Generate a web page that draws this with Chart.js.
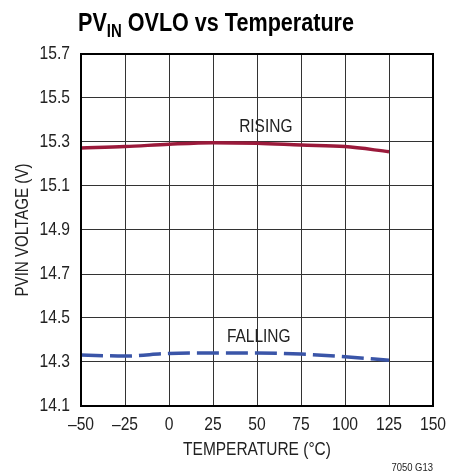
<!DOCTYPE html>
<html>
<head>
<meta charset="utf-8">
<script src="https://cdn.jsdelivr.net/npm/chart.js@4.4.0/dist/chart.umd.min.js"></script>
<style>
  html, body { margin: 0; padding: 0; background: #fff; }
  #wrap { width: 450px; height: 475px; position: relative; }
</style>
</head>
<body>
<div id="wrap"><canvas id="ovloChart" width="450" height="475"></canvas></div>
<script>
  "use strict";

  // data
  var temps = [-50, -25, 0, 25, 50, 75, 100, 125];
  var rising = [15.273, 15.279, 15.290, 15.297, 15.294, 15.286, 15.279, 15.256];
  var falling = [14.332, 14.327, 14.339, 14.341, 14.341, 14.336, 14.324, 14.308];
  var xTicks = [-50, -25, 0, 25, 50, 75, 100, 125, 150];
  var yTicks = [14.1, 14.3, 14.5, 14.7, 14.9, 15.1, 15.3, 15.5, 15.7];

  var FONT = "'Liberation Sans', Arial, sans-serif";

  function toPts(ys) {
    return temps.map(function (t, i) { return { x: t, y: ys[i] }; });
  }

  // narrow text: squeeze horizontally around the anchor
  function narrowText(c, txt, x, y, align, sx) {
    c.save();
    c.translate(x, y);
    c.scale(sx, 1);
    c.textAlign = align;
    c.fillText(txt, 0, 0);
    c.restore();
  }

  var extras = {
    id: "extras",
    afterDraw: function (chart) {
      var c = chart.ctx, a = chart.chartArea;
      var xs = chart.scales.x, ys = chart.scales.y;
      c.save();
      // frame
      c.strokeStyle = "#000";
      c.lineWidth = 2;
      c.strokeRect(a.left, a.top, a.right - a.left, a.bottom - a.top);

      // tick labels
      c.fillStyle = "#222";
      c.font = "18px " + FONT;
      c.textBaseline = "middle";
      yTicks.forEach(function (v) {
        narrowText(c, v.toFixed(1), 70, ys.getPixelForValue(v), "right", 0.87);
      });
      xTicks.forEach(function (v) {
        var s = v < 0 ? "\u2013" + Math.abs(v) : String(v);
        narrowText(c, s, xs.getPixelForValue(v), 425, "center", 0.87);
      });

      // title with subscript
      c.fillStyle = "#000";
      c.textBaseline = "alphabetic";
      c.save();
      c.translate(78, 0);
      c.scale(0.83, 1);
      c.textAlign = "left";
      var x = 0;
      c.font = "bold 26px " + FONT;
      c.fillText("PV", x, 31);
      x += c.measureText("PV").width;
      c.font = "bold 18px " + FONT;
      c.fillText("IN", x, 37);
      x += c.measureText("IN").width;
      c.font = "bold 26px " + FONT;
      c.fillText(" OVLO vs Temperature", x, 31);
      c.restore();

      // axis titles
      c.fillStyle = "#222";
      c.font = "18px " + FONT;
      c.textBaseline = "middle";
      narrowText(c, "TEMPERATURE (\u00B0C)", 257, 450, "center", 0.86);
      c.save();
      c.translate(23, (a.top + a.bottom) / 2);
      c.rotate(-Math.PI / 2);
      narrowText(c, "PVIN VOLTAGE (V)", 0, 0, "center", 0.84);
      c.restore();

      // curve labels
      narrowText(c, "RISING", xs.getPixelForValue(55), ys.getPixelForValue(15.366), "center", 0.86);
      narrowText(c, "FALLING", xs.getPixelForValue(51), ys.getPixelForValue(14.415), "center", 0.86);

      // figure number
      c.font = "11px " + FONT;
      narrowText(c, "7050 G13", a.right, 468, "right", 0.86);
      c.restore();
    }
  };

  var ctx = document.getElementById("ovloChart");
  var myChart = new Chart(ctx, {
    type: "line",
    data: {
      datasets: [
        {
          label: "RISING",
          data: toPts(rising),
          borderColor: "#9b1a3b",
          borderWidth: 3.5,
          pointRadius: 0,
          tension: 0.4,
          cubicInterpolationMode: "monotone",
          fill: false,
        },
        {
          label: "FALLING",
          data: toPts(falling),
          borderColor: "#3a55a8",
          borderWidth: 3.5,
          borderDash: [22, 7],
          pointRadius: 0,
          tension: 0.4,
          cubicInterpolationMode: "monotone",
          fill: false,
        },
      ],
    },
    options: {
      responsive: false,
      animation: false,
      layout: { padding: { top: 54, right: 17, left: 0, bottom: 0 } },
      plugins: {
        legend: { display: false },
        tooltip: { enabled: false },
      },
      scales: {
        x: {
          type: "linear",
          min: -50,
          max: 150,
          afterBuildTicks: function (s) {
            s.ticks = xTicks.map(function (v) { return { value: v }; });
          },
          afterFit: function (s) { s.height = 69; },
          grid: { color: "#333", lineWidth: 1, drawTicks: false },
          border: { display: false },
          ticks: { display: false },
        },
        y: {
          type: "linear",
          min: 14.1,
          max: 15.7,
          afterBuildTicks: function (s) {
            s.ticks = yTicks.map(function (v) { return { value: v }; });
          },
          afterFit: function (s) { s.width = 81; },
          grid: { color: "#333", lineWidth: 1, drawTicks: false },
          border: { display: false },
          ticks: { display: false },
        },
      },
    },
    plugins: [extras],
  });
</script>
</body>
</html>
